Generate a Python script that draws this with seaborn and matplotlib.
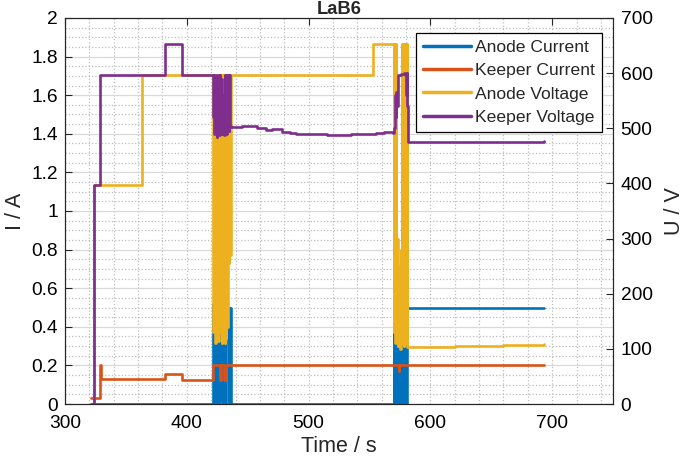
"""
LaB6 cathode start-up: anode/keeper current (left) and voltage (right) vs time.
"""

import matplotlib
matplotlib.use('Agg')
import matplotlib.pyplot as plt
from matplotlib.ticker import MultipleLocator
import seaborn as sns

# ---- data (step-wise: value holds until next time) ----
anode_current_t = [321.0, 421.5, 422.0, 422.5, 423.0, 423.5, 424.0, 424.5, 425.0,
                   425.5, 426.0, 426.5, 427.0, 427.5, 428.0, 428.5, 430.5, 431.0,
                   431.5, 432.0, 434.5, 435.0, 435.5, 436.0,
                   570.0, 570.5, 571.0, 571.5, 572.0, 572.5, 573.0, 573.5, 574.0,
                   574.5, 575.0, 575.5, 576.0, 576.5, 577.5, 578.0, 578.5, 579.0,
                   579.5, 580.0, 580.5, 620.0, 660.0, 693.5]
anode_current = [0.0, 0.52, 0.0, 0.37, 0.10, 0.37, 0.0, 0.37, 0.15,
                 0.37, 0.0, 0.36, 0.50, 0.02, 0.48, 0.0, 0.37, 0.0,
                 0.36, 0.0, 0.50, 0.02, 0.50, 0.0,
                 0.52, 0.0, 0.52, 0.27, 0.50, 0.0, 0.27, 0.50, 0.0,
                 0.52, 0.0, 0.52, 0.30, 0.0, 0.51, 0.0, 0.50, 0.0,
                 0.51, 0.0, 0.50, 0.50, 0.50, 0.50]

keeper_current_t = [321.0, 328.6, 329.4, 382.0, 396.0, 421.5, 427.0, 427.8,
                    430.8, 432.3, 574.0, 574.6, 693.5]
keeper_current = [0.03, 0.20, 0.13, 0.155, 0.125, 0.20, 0.125, 0.20,
                  0.125, 0.20, 0.17, 0.20, 0.20]

anode_voltage_t = [321.0, 323.5, 363.5, 421.5, 422.0, 422.5, 423.0, 423.5, 424.0,
                   424.5, 425.0, 425.5, 426.0, 426.5, 427.0, 427.5, 428.0, 428.5,
                   429.0, 429.5, 430.0, 430.5, 431.0, 431.5, 432.0, 432.5, 433.0,
                   433.5, 434.5, 435.0, 435.5, 436.0, 553.0,
                   570.0, 570.5, 571.0, 571.5, 572.0, 572.5, 573.0, 573.5, 574.0,
                   574.5, 575.0, 575.5, 576.0, 576.5, 577.0, 577.5, 578.0, 578.5,
                   579.0, 579.5, 580.0, 580.5, 581.0, 620.0, 660.0, 693.5]
anode_voltage = [0, 398, 596, 130, 596, 140, 596, 111, 590,
                 120, 596, 115, 596, 150, 130, 200, 596, 111,
                 596, 120, 596, 130, 111, 150, 120, 596, 140,
                 596, 256, 596, 270, 596, 653,
                 130, 653, 110, 653, 120, 300, 105, 250, 110,
                 200, 100, 280, 115, 653, 110, 653, 105, 653,
                 120, 653, 110, 653, 104, 105, 107, 108]

keeper_voltage_t = [321.0, 323.9, 329.0, 382.0, 396.0, 421.5, 422.0, 422.5, 423.0,
                    423.5, 424.0, 424.5, 425.0, 425.5, 426.0, 426.5, 427.0, 427.5,
                    428.0, 428.5, 429.0, 429.5, 430.0, 430.5, 431.0, 431.5, 432.0,
                    432.5, 433.0, 433.5, 434.0, 434.5, 435.0, 435.5, 436.0, 445.0,
                    452.0, 458.0, 465.0, 470.0, 478.0, 485.0, 490.0, 497.0, 505.0,
                    515.0, 525.0, 535.0, 545.0, 555.0, 562.0, 569.0, 570.5, 571.0,
                    571.5, 572.0, 572.5, 573.0, 573.5, 576.0, 578.0, 579.5, 580.0,
                    580.5, 581.0, 581.5, 620.0, 660.0, 693.5]
keeper_voltage = [0, 398, 596, 653, 596, 520, 596, 490, 590,
                  500, 596, 485, 590, 495, 596, 488, 596, 500,
                  590, 490, 560, 495, 555, 487, 596, 495, 596,
                  490, 590, 500, 596, 495, 596, 505, 503, 505,
                  504, 500, 497, 498, 494, 492, 490, 489, 489,
                  488, 487, 489, 490, 491, 493, 492, 500, 560,
                  520, 566, 540, 570, 596, 598, 600, 596, 560,
                  600, 540, 475, 475, 476, 477]

title = 'LaB6'
series_labels = ['Anode Current', 'Keeper Current', 'Anode Voltage', 'Keeper Voltage']
colors = ['#0072BD', '#D95319', '#EDB120', '#7E2F8E']

# ---- style ----
sns.set_style('white')
plt.rcParams['font.family'] = ['Liberation Sans', 'DejaVu Sans']
plt.rcParams['xtick.direction'] = 'in'
plt.rcParams['ytick.direction'] = 'in'

fig = plt.figure(figsize=(6.85, 4.61), dpi=100)
ax = fig.add_axes([0.095, 0.1236, 0.80, 0.8374])
ax2 = ax.twinx()

lw = 1.9
line_kw = dict(estimator=None, sort=False, drawstyle='steps-post', linewidth=lw)
sns.lineplot(x=anode_current_t, y=anode_current, ax=ax, color=colors[0],
             label=series_labels[0], legend=False, **line_kw)
sns.lineplot(x=keeper_current_t, y=keeper_current, ax=ax, color=colors[1],
             label=series_labels[1], legend=False, **line_kw)
sns.lineplot(x=anode_voltage_t, y=anode_voltage, ax=ax2, color=colors[2],
             label=series_labels[2], legend=False, **line_kw)
sns.lineplot(x=keeper_voltage_t, y=keeper_voltage, ax=ax2, color=colors[3],
             label=series_labels[3], legend=False, **line_kw)

# axes limits / ticks
ax.set_xlim(300, 750)
ax.set_ylim(0, 2)
ax2.set_ylim(0, 700)
ax.xaxis.set_major_locator(MultipleLocator(100))
ax.xaxis.set_minor_locator(MultipleLocator(20))
ax.yaxis.set_minor_locator(MultipleLocator(0.05))
ax2.yaxis.set_major_locator(MultipleLocator(100))
ax.set_yticks([0, 0.2, 0.4, 0.6, 0.8, 1, 1.2, 1.4, 1.6, 1.8, 2])
ax.set_yticklabels(['0', '0.2', '0.4', '0.6', '0.8', '1', '1.2', '1.4', '1.6', '1.8', '2'])

tick_fs = 13.8
ax.tick_params(axis='x', which='major', labelsize=tick_fs, length=5, width=0.8,
               color='#262626', labelcolor='black', top=True, pad=8)
ax.tick_params(axis='y', which='major', labelsize=tick_fs, length=5, width=0.8,
               color='#262626', labelcolor='black', right=False, pad=5)
ax.tick_params(axis='both', which='minor', length=0, top=False)
ax2.tick_params(axis='y', which='major', labelsize=tick_fs, length=5, width=0.8,
                color='#262626', labelcolor='black', left=False, pad=5.5)

# MATLAB-like grid: solid major horizontals, dotted minors and verticals
ax.grid(True, which='major', axis='y', color='#d9d9d9', linestyle='-', linewidth=0.9)
ax.grid(True, which='major', axis='x', color='#bdbdbd', linestyle=':', linewidth=0.9)
ax.grid(True, which='minor', axis='both', color='#bdbdbd', linestyle=':', linewidth=0.9)
ax.set_axisbelow(True)

for spine in list(ax.spines.values()) + list(ax2.spines.values()):
    spine.set_color('#262626')
    spine.set_linewidth(0.8)

ax.set_xlabel('Time / s', fontsize=15.5, labelpad=3)
ax.set_ylabel('I / A', fontsize=15.5, labelpad=4)
ax2.set_ylabel('U / V', fontsize=15.5, labelpad=8)
ax.set_title(title, fontsize=13.2, fontweight='bold', pad=1.5)

# legend with all four series
handles = ax.get_lines()[:2] + ax2.get_lines()[:2]
leg = ax2.legend(handles, series_labels, loc='upper right', fontsize=12.6,
                 bbox_to_anchor=(602 / 685, 1 - 33 / 461),
                 bbox_transform=fig.transFigure, borderaxespad=0,
                 frameon=True, fancybox=False, edgecolor='black', framealpha=1,
                 handlelength=2.75, borderpad=0.4, labelspacing=0.45,
                 handletextpad=0.25)
leg.get_frame().set_linewidth(0.9)
for line in leg.get_lines():
    line.set_linewidth(2.5)

plt.savefig('out.png', dpi=100)
plt.close(fig)
